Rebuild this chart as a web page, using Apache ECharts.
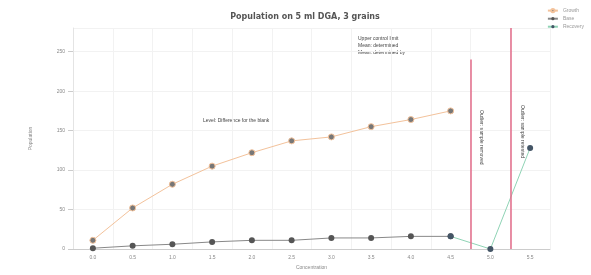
<!DOCTYPE html>
<html><head><meta charset="utf-8">
<script src="https://cdn.jsdelivr.net/npm/echarts@6/dist/echarts.min.js"></script>
<style>html,body{margin:0;padding:0;background:#fff}#c{width:591px;height:275px}</style>
</head><body><div id="c"></div>
<script>
var categories = ['0.0','0.5','1.0','1.5','2.0','2.5','3.0','3.5','4.0','4.5','5.0','5.5'];
var growthValues = [11, 52, 82, 105, 122, 137, 142, 155, 164, 175, null, null];
var baseValues = [1, 4, 6, 9, 11, 11, 14, 14, 16, 16, null, null];
var recoveryValues = [null, null, null, null, null, null, null, null, null, 16, 0, 128];
var yTicks = [0, 50, 100, 150, 200, 250];
var limitPositions = [9.5, 10.5];
var limitTops = [240, 280];

var chart = echarts.init(document.getElementById('c'));
chart.setOption({
  animation: false,
  backgroundColor: '#fff',
  title: {text: 'Population on 5 ml DGA, 3 grains', left: 300, top: 8, textAlign: 'center',
    textStyle: {fontSize: 8, fontWeight: 'bold', color: '#555', fontFamily: 'DejaVu Sans'}},
  legend: {orient: 'vertical', right: 2, top: 3, itemWidth: 10, itemHeight: 4, itemGap: 3,
    textStyle: {fontSize: 5, color: '#999'}, data: ['Growth', 'Base', 'Recovery']},
  grid: {left: 73, right: 41, top: 28, bottom: 26},
  xAxis: [{type: 'category', data: categories, boundaryGap: true,
    name: 'Concentration', nameLocation: 'middle', nameGap: 14,
    nameTextStyle: {fontSize: 5, color: '#888'},
    axisLine: {lineStyle: {color: '#ccc'}}, axisTick: {show: false},
    axisLabel: {fontSize: 5, color: '#888', margin: 6},
    splitLine: {show: true, lineStyle: {color: '#f2f2f2'}}},
   {type: 'value', show: false, min: -0.5, max: 11.5}],
  yAxis: {type: 'value', min: 0, max: 280, interval: 50,
    name: 'Population', nameLocation: 'middle', nameGap: 40,
    nameTextStyle: {fontSize: 5, color: '#888'},
    axisLine: {show: true, onZero: false, lineStyle: {color: '#e4e4e4'}}, axisTick: {show: true, lineStyle: {color: '#ccc'}},
    axisLabel: {fontSize: 5, color: '#888', showMaxLabel: false, formatter: function(v){return yTicks.indexOf(v) >= 0 ? String(v) : '';}},
    splitLine: {lineStyle: {color: '#f2f2f2'}}},
  graphic: [
    {type: 'text', left: 358, top: 35, style: {text: 'Upper control limit\nMean: determined\nMean: determined by', fontSize: 5, lineHeight: 7, fill: '#444'}},
    {type: 'text', left: 203, top: 118, style: {text: 'Level: Difference for the blank', fontSize: 5, fill: '#444'}},
    {type: 'text', x: 484, y: 110, rotation: -Math.PI/2, style: {text: 'Outlier: sample removed', fontSize: 5, fill: '#444'}},
    {type: 'text', x: 525, y: 105, rotation: -Math.PI/2, style: {text: 'Outlier: sample retested', fontSize: 5, fill: '#444'}}
  ],
  series: [
    {name: 'Growth', type: 'line', data: growthValues, symbol: 'circle', symbolSize: 6,
      lineStyle: {color: '#f3c29b', width: 1}, itemStyle: {color: '#777', borderColor: '#f3c29b', borderWidth: 1}},
    {name: 'Base', type: 'line', data: baseValues, symbol: 'circle', symbolSize: 6,
      lineStyle: {color: '#888', width: 1}, itemStyle: {color: '#555'}},
    {name: 'Recovery', type: 'line', data: recoveryValues, symbol: 'circle', symbolSize: 6,
      lineStyle: {color: '#8fd3b5', width: 1}, itemStyle: {color: '#456'}},
    {name: 'limits', type: 'line', xAxisIndex: 1, data: [],
      markLine: {silent: true, symbol: 'none', label: {show: false},
        lineStyle: {color: '#e26a88', width: 1.5, type: 'solid'},
        data: limitPositions.map(function(p, i){return [{coord: [p, 0]}, {coord: [p, limitTops[i]]}];})}}
  ]
});
</script></body></html>
